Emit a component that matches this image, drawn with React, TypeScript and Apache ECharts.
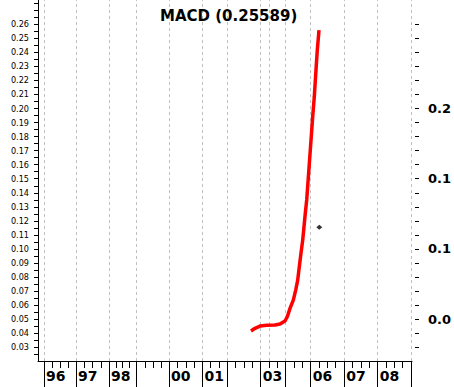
import React, { useEffect, useRef } from "react";
import * as echarts from "echarts";

// x axis: bar index (irregular trading calendar)
const yearPos = [3, 19, 35.5, 49, 65.5, 82.25, 94.65, 111.35, 123.85, 136.35, 153.15, 169.85, 186.85];
const yearLabels = ["96", "97", "98", "", "00", "01", "", "03", "", "06", "07", "08", ""];
const quarterPos = [
  7, 11, 15, 23, 27.35, 31.5, 39, 42.35, 45.65, 53.5, 57.65, 61.85, 69.85, 74, 78.15,
  86.35, 90.5, 98.85, 103, 107.15, 115.65, 119.65, 128, 132.15, 140.5, 144.65, 148.85,
  157.35, 161.5, 165.65, 174, 178.15, 182.35,
];
const extraGridPos = [115.65];

// y axis ticks
const leftLabelVals = [0.03, 0.04, 0.05, 0.06, 0.07, 0.08, 0.09, 0.1, 0.11, 0.12, 0.13, 0.14, 0.15, 0.16, 0.17, 0.18, 0.19, 0.2, 0.21, 0.22, 0.23, 0.24, 0.25, 0.26];
const leftTickVals = [
  0.025, 0.03, 0.035, 0.04, 0.045, 0.05, 0.055, 0.06, 0.065, 0.07, 0.075, 0.08, 0.085, 0.09, 0.095,
  0.1, 0.105, 0.11, 0.115, 0.12, 0.125, 0.13, 0.135, 0.14, 0.145, 0.15, 0.155, 0.16, 0.165, 0.17,
  0.175, 0.18, 0.185, 0.19, 0.195, 0.2, 0.205, 0.21, 0.215, 0.22, 0.225, 0.23, 0.235, 0.24, 0.245,
  0.25, 0.255, 0.26, 0.265, 0.27, 0.275,
];
const rightTickVals = [0.03, 0.04, 0.05, 0.06, 0.07, 0.08, 0.09, 0.1, 0.11, 0.12, 0.13, 0.14, 0.15, 0.16, 0.17, 0.18, 0.19, 0.2, 0.21, 0.22, 0.23, 0.24, 0.25, 0.26];
const rightLabelVals = [0.05, 0.1, 0.15, 0.2];
// right-hand labels as visible in the (cropped) original
const rightLabelText = ["0.0", "0.1", "0.1", "0.2"];

// MACD series
const macdX = [106.5, 108.5, 111, 114.35, 118.5, 121, 123.5, 124.65, 126, 127.65, 128.85, 129.85, 130.65, 131.5, 132.35, 133, 133.65, 134.35, 137.35, 138.15, 139, 139.65, 140.5];
const macdY = [0.0416, 0.0435, 0.0451, 0.0456, 0.0458, 0.0465, 0.0487, 0.0517, 0.0577, 0.0636, 0.0707, 0.0778, 0.0873, 0.0971, 0.1063, 0.1158, 0.1254, 0.1349, 0.1942, 0.2084, 0.2275, 0.2417, 0.2559];
const signalPoint = [140.65, 0.1154];

const title = "MACD (0.25589)";

export default function App() {
  const ref = useRef<HTMLDivElement>(null);
  useEffect(() => {
    if (!ref.current) return;
    const chart = echarts.init(ref.current, null, { renderer: "svg" });
    const yMin = 0.0202;
    const yMax = 0.2773;
    chart.setOption({
      animation: false,
      title: {
        text: title,
        left: 155,
        top: 3,
        textStyle: { fontFamily: "DejaVu Sans", fontWeight: "bold", fontSize: 15, color: "#000" },
      },
      grid: { left: 38, right: 42, top: 0, bottom: 26, containLabel: false, outerBoundsMode: "none" },
      xAxis: [
        {
          type: "value",
          min: 0,
          max: 187,
          position: "bottom",
          axisLine: { show: true, lineStyle: { color: "#000", width: 1 } },
          axisTick: { show: true, customValues: yearPos, length: 27, lineStyle: { color: "#000", width: 1 } },
          axisLabel: {
            show: true,
            customValues: yearPos.filter((_, i) => yearLabels[i] !== ""),
            formatter: (v: number) => {
              const i = yearPos.findIndex((p) => Math.abs(p - v) < 1e-6);
              return i >= 0 ? yearLabels[i] : "";
            },
            align: "left",
            padding: [0, 0, 0, 2],
            margin: 8,
            fontFamily: "DejaVu Sans",
            fontWeight: "bold",
            fontSize: 14,
            color: "#000",
          },
          splitLine: { show: false },
        },
        {
          type: "value",
          min: 0,
          max: 187,
          position: "bottom",
          axisLine: { show: false },
          axisTick: { show: true, customValues: quarterPos, length: 7, lineStyle: { color: "#000", width: 1 } },
          axisLabel: { show: false },
          splitLine: { show: false },
        },
      ],
      yAxis: [
        {
          type: "value",
          min: yMin,
          max: yMax,
          position: "left",
          axisLine: { show: true, lineStyle: { color: "#000", width: 1 } },
          axisTick: { show: true, customValues: leftTickVals, length: 4, lineStyle: { color: "#000", width: 1 } },
          axisLabel: {
            show: true,
            customValues: leftLabelVals,
            formatter: (v: number) => v.toFixed(2),
            margin: 9,
            fontFamily: "'Liberation Sans Narrow', 'DejaVu Sans Condensed', 'Liberation Sans'",
            fontSize: 9,
            color: "#000",
          },
          splitLine: { show: false },
        },
        {
          type: "value",
          min: yMin,
          max: yMax,
          position: "right",
          axisLine: { show: false },
          axisTick: { show: false },
          axisLabel: {
            show: true,
            customValues: rightLabelVals,
            formatter: (v: number) => {
              const i = rightLabelVals.findIndex((p) => Math.abs(p - v) < 1e-6);
              return i >= 0 ? rightLabelText[i] : "";
            },
            margin: 16,
            fontFamily: "DejaVu Sans",
            fontWeight: "bold",
            fontSize: 13,
            color: "#000",
          },
          splitLine: { show: false },
        },
        {
          type: "value",
          min: yMin,
          max: yMax,
          position: "right",
          offset: 3,
          axisLine: { show: false },
          axisTick: { show: true, inside: false, customValues: rightTickVals, length: 4, lineStyle: { color: "#000", width: 1 } },
          axisLabel: { show: false, customValues: rightTickVals },
          splitLine: { show: false },
        },
      ],
      series: [
        {
          type: "line",
          name: "grid",
          xAxisIndex: 0,
          yAxisIndex: 0,
          data: [[0, 0.1]],
          showSymbol: false,
          symbol: "none",
          lineStyle: { width: 0, opacity: 0 },
          silent: true,
          z: 1,
          markLine: {
            silent: true,
            z: 1,
            symbol: ["none", "none"],
            label: { show: false },
            lineStyle: { color: "#c0c0c0", type: [3, 3], width: 1 },
            data: [...yearPos, ...extraGridPos].map((x) => ({ xAxis: x })),
          },
        },
        {
          type: "line",
          name: "MACD",
          xAxisIndex: 0,
          yAxisIndex: 0,
          data: macdX.map((x, i) => [x, macdY[i]]),
          symbol: "none",
          showSymbol: false,
          lineStyle: { color: "#ff0000", width: 3.5 },
          z: 5,
        },
        {
          type: "scatter",
          name: "Signal",
          xAxisIndex: 0,
          yAxisIndex: 0,
          data: [signalPoint],
          symbol: "diamond",
          symbolSize: [6, 5],
          itemStyle: { color: "#000" },
          z: 6,
        },
      ],
    });
    return () => chart.dispose();
  }, []);
  return (
    <div
      ref={ref}
      style={{ position: "fixed", left: 0, top: 0, width: 454, height: 387, background: "#fff" }}
    />
  );
}
